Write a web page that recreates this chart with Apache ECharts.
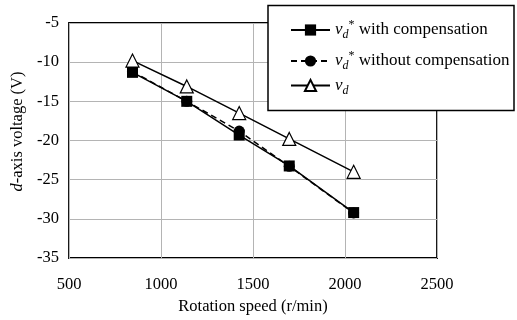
<!DOCTYPE html>
<html>
<head>
<meta charset="utf-8">
<script src="https://cdn.jsdelivr.net/npm/echarts@6/dist/echarts.min.js"></script>
<style>
    html, body { margin: 0; padding: 0; background: #fff; }
    #main { width: 517px; height: 320px; }
</style>
</head>
<body>
<div id="main"></div>
<script>
// rotation speed (r/min)
const speed = [845, 1140, 1425, 1697, 2047];
// d-axis voltage (V)
const vdRefComp = [-11.3, -15.0, -19.3, -23.25, -29.2];
const vdRefNoComp = [-11.2, -15.0, -18.8, -23.3, -29.25];
const vdActual = [-9.8, -13.1, -16.5, -19.8, -24.0];
const xTicks = [500, 1000, 1500, 2000, 2500];
const yTicks = [-35, -30, -25, -20, -15, -10, -5];

const seriesNames = ['vd* with compensation', 'vd* without compensation', 'vd'];
const legendText = {
    'vd* with compensation': '{v|v}{sub|d}{sup|*}{t| with compensation}',
    'vd* without compensation': '{v|v}{sub|d}{sup|*}{t| without compensation}',
    'vd': '{v|v}{sub|d}'
};

const FONT = 'Liberation Serif';
const FS = 16.5;

function pairs(xs, ys){
    return xs.map(function(x, i){ return [x, ys[i]]; });
}

function init(){
    let chart = echarts.init(document.getElementById('main'));
    let richText = {
        v: { fontFamily: FONT, fontStyle: 'italic', fontSize: 17, color: '#000', lineHeight: 22 },
        sub: { fontFamily: FONT, fontStyle: 'italic', fontSize: 12, color: '#000', lineHeight: 12, verticalAlign: 'bottom' },
        sup: { fontFamily: FONT, fontSize: 12, color: '#000', lineHeight: 12, verticalAlign: 'top' },
        t: { fontFamily: FONT, fontSize: 17, color: '#000', lineHeight: 22 }
    };
    let legendTops = [19, 50, 77];
    let legends = seriesNames.map(function(name, i){
        return {
            data: [name],
            left: 290,
            top: legendTops[i],
            padding: 0,
            itemWidth: 39,
            itemHeight: 14,
            z: 60,
            selectedMode: false,
            formatter: function(n){ return legendText[n]; },
            textStyle: { rich: richText }
        };
    });

    chart.setOption({
        backgroundColor: '#fff',
        animation: false,
        grid: {
            left: 69,
            right: 80,
            top: 23,
            bottom: 59,
            show: true,
            borderColor: '#000',
            borderWidth: 1.8
        },
        legend: legends,
        graphic: [{
            type: 'rect',
            z: 50,
            shape: { x: 268, y: 5.5, width: 246, height: 105 },
            style: { fill: '#fff', stroke: '#000', lineWidth: 1.5 }
        }],
        xAxis: {
            type: 'value',
            min: xTicks[0],
            max: xTicks[xTicks.length - 1],
            interval: 500,
            name: 'Rotation speed (r/min)',
            nameLocation: 'middle',
            nameGap: 40,
            nameTextStyle: { fontFamily: FONT, fontSize: FS, color: '#000' },
            axisLine: { show: false },
            axisTick: { show: false },
            axisLabel: {
                fontFamily: FONT, fontSize: FS, color: '#000', margin: 18,
                formatter: function(v){ return String(v); }
            },
            splitLine: { lineStyle: { color: '#b4b4b4', width: 1 } }
        },
        yAxis: {
            type: 'value',
            min: yTicks[0],
            max: yTicks[yTicks.length - 1],
            interval: 5,
            name: '{i|d}-axis voltage (V)',
            nameLocation: 'middle',
            nameGap: 36,
            nameTextStyle: {
                fontFamily: FONT, fontSize: FS, color: '#000',
                padding: [0, 0, 0, 18],
                rich: {
                    i: { fontFamily: FONT, fontStyle: 'italic', fontSize: FS, color: '#000' }
                }
            },
            axisLine: { show: false },
            axisTick: { show: false },
            axisLabel: { fontFamily: FONT, fontSize: FS, color: '#000', margin: 10 },
            splitLine: { lineStyle: { color: '#b4b4b4', width: 1 } }
        },
        series: [
            {
                name: seriesNames[1],
                type: 'line',
                data: pairs(speed, vdRefNoComp),
                symbol: 'circle',
                symbolSize: 11,
                itemStyle: { color: '#000' },
                lineStyle: { color: '#000', width: 1.5, type: [6, 4] }
            },
            {
                name: seriesNames[0],
                type: 'line',
                data: pairs(speed, vdRefComp),
                symbol: 'rect',
                symbolSize: 11,
                itemStyle: { color: '#000' },
                lineStyle: { color: '#000', width: 1.5 }
            },
            {
                name: seriesNames[2],
                type: 'line',
                data: pairs(speed, vdActual),
                symbol: 'triangle',
                symbolSize: 13,
                itemStyle: { color: '#fff', borderColor: '#000', borderWidth: 1.2 },
                lineStyle: { color: '#000', width: 1.5 }
            }
        ]
    });
}

init();
</script>
</body>
</html>
